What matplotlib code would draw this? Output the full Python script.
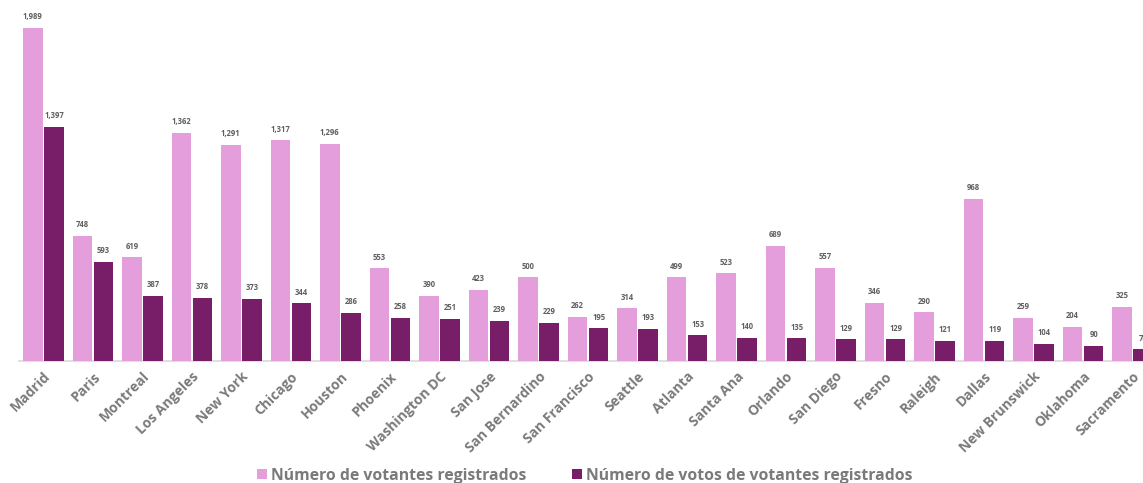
import matplotlib
matplotlib.use('Agg')
import matplotlib.pyplot as plt
import numpy as np

# Registered voters abroad vs. votes cast, by city
ciudades = ['Madrid', 'Paris', 'Montreal', 'Los Angeles', 'New York', 'Chicago',
            'Houston', 'Phoenix', 'Washington DC', 'San Jose', 'San Bernardino',
            'San Francisco', 'Seattle', 'Atlanta', 'Santa Ana', 'Orlando',
            'San Diego', 'Fresno', 'Raleigh', 'Dallas', 'New Brunswick',
            'Oklahoma', 'Sacramento']
votantes = [1989, 748, 619, 1362, 1291, 1317, 1296, 553, 390, 423, 500, 262,
            314, 499, 523, 689, 557, 346, 290, 968, 259, 204, 325]
votos = [1397, 593, 387, 378, 373, 344, 286, 258, 251, 239, 229, 195,
         193, 153, 140, 135, 129, 129, 121, 119, 104, 90, 70]

ROSA = '#E49EDB'
MORADO = '#781E69'
GRIS = '#7a7a7a'
FONT = 'Open Sans'

W, H, DPI = 1143, 483, 100
fig = plt.figure(figsize=(W / DPI, H / DPI), dpi=DPI)

# axes run slightly past the right edge, so the last bar is cut off
pitch = 49.5
left_px = 18.75
base_px = 122
ax = fig.add_axes([left_px / W, base_px / H, len(ciudades) * pitch / W, 335 / H])

x = np.arange(len(ciudades))
bw = 0.39
off = 0.215
b1 = ax.bar(x - off, votantes, bw, color=ROSA, label='Número de votantes registrados',
            zorder=3)
b2 = ax.bar(x + off, votos, bw, color=MORADO,
            label='Número de votos de votantes registrados', zorder=3)

for bars, vals in ((b1, votantes), (b2, votos)):
    for rect, v in zip(bars, vals):
        ax.text(rect.get_x() + rect.get_width() / 2, v + 40, f'{v:,}',
                ha='center', va='bottom', fontsize=5.5, fontweight='bold',
                color='#606060', family=FONT, clip_on=False)

ax.set_xlim(-0.5, len(ciudades) - 0.5)
ax.set_ylim(0, 2000)
ax.set_xticks(x)
ax.set_xticklabels(ciudades, rotation=45, ha='right', rotation_mode='anchor',
                   fontsize=10, fontweight='bold', color=GRIS, family=FONT)
ax.tick_params(axis='x', length=0, pad=6)
ax.set_yticks([])
for s in ('top', 'right', 'left'):
    ax.spines[s].set_visible(False)
ax.spines['bottom'].set_color('#d9d9d9')
ax.spines['bottom'].set_linewidth(1.2)

fig.legend(handles=[b1, b2], loc='center', bbox_to_anchor=(585 / W, 1 - 476 / H),
           ncol=2, frameon=False, handlelength=0.6, handleheight=0.6,
           handletextpad=0.3, columnspacing=2.9,
           prop={'family': FONT, 'weight': 'bold', 'size': 11.3},
           labelcolor=GRIS)

fig.savefig('out.png', dpi=DPI)
